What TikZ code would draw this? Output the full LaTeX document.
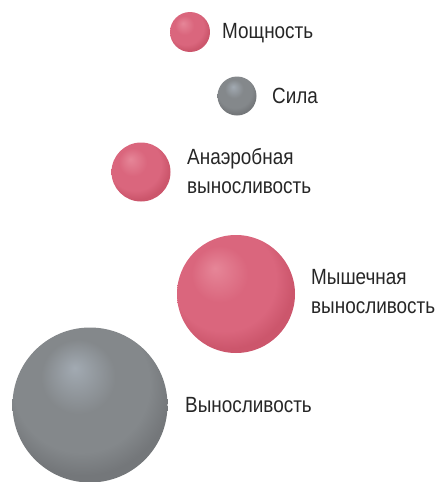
\documentclass[tikz,border=0pt]{standalone}
\usepackage{fontspec}
\newfontfamily\labelfont{Liberation Sans}[FakeStretch=0.86]
\usetikzlibrary{positioning}

\definecolor{pinkhi}{RGB}{230,134,152}
\definecolor{pinkmid}{RGB}{218,102,125}
\definecolor{pinkdark}{RGB}{204,86,108}
\definecolor{grayhi}{RGB}{162,170,178}
\definecolor{graymid}{RGB}{132,136,139}
\definecolor{graydark}{RGB}{116,119,122}
\definecolor{labeltext}{RGB}{38,38,38}

\pgfdeclareradialshading{pinkball}{\pgfpoint{-9bp}{11bp}}{%
	color(0bp)=(pinkhi); color(12bp)=(pinkmid); color(22bp)=(pinkmid);
	color(28bp)=(pinkdark); color(50bp)=(pinkdark)}
\pgfdeclareradialshading{grayball}{\pgfpoint{-5bp}{12bp}}{%
	color(0bp)=(grayhi); color(12bp)=(graymid); color(22bp)=(graymid);
	color(28bp)=(graydark); color(50bp)=(graydark)}

\begin{document}
\begin{tikzpicture}[
		x=1pt, y=-1pt,
		% Style for the spheres
		sphere/.style={circle, inner sep=0pt, minimum size=#1},
		pink sphere/.style={sphere=#1, shading=pinkball},
		gray sphere/.style={sphere=#1, shading=grayball},
		% Style for the texts next to them (placed by the baseline of the last line)
		sphere label/.style={anchor=base west, inner sep=0pt, align=left,
			text=labeltext, font=\labelfont\fontsize{22}{29}\selectfont}
		]
		\useasboundingbox (0,0) rectangle (437,482);
		
		% ==============================================================================
		% Small spheres
		% ==============================================================================
		\node[pink sphere=40pt] (power) at (190,32) {};
		\node[sphere label] (power-text) at (222,38) {Мощность};
		
		\node[gray sphere=39pt] (strength) at (237,96) {};
		\node[sphere label] (strength-text) at (272,103) {Сила};
		
		\node[pink sphere=59pt] (anaerobic) at (141,172) {};
		\node[sphere label] (anaerobic-text) at (187,193) {Анаэробная\\выносливость};
		
		% ==============================================================================
		% Big spheres
		% ==============================================================================
		\node[pink sphere=118pt] (muscular) at (236,294) {};
		\node[sphere label] (muscular-text) at (311,313) {Мышечная\\выносливость};
		
		\node[gray sphere=155pt] (endurance) at (90,405) {};
		\node[sphere label] (endurance-text) at (185,412) {Выносливость};
	\end{tikzpicture}
\end{document}
